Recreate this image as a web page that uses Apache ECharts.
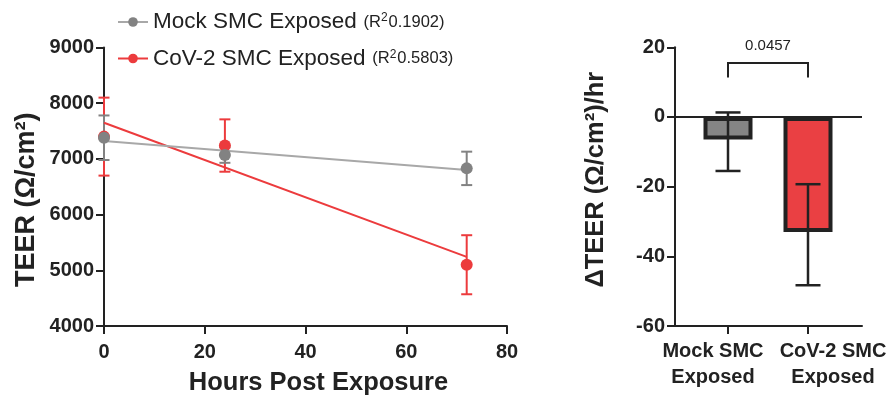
<!DOCTYPE html>
<html>
<head>
<meta charset="utf-8">
<script src="https://cdn.jsdelivr.net/npm/echarts@6/dist/echarts.min.js"></script>
<style>html,body{margin:0;padding:0;background:#fff}#c{width:891px;height:403px}</style>
</head>
<body>
<div id="c"></div>
<script>
// ---- data ----
const hours = [0, 24, 72];
const mockTEER = [7380, 7070, 6830];
const mockSD = [400, 140, 300];
const covTEER = [7400, 7240, 5100];
const covSD = [700, 470, 530];
const fitHours = [0, 72];
const mockFit = [7320, 6800];
const covFit = [7650, 5240];
const mockName = 'Mock SMC Exposed';
const covName = 'CoV-2 SMC Exposed';
const mockR2 = '0.1902';
const covR2 = '0.5803';
const rateCats = ['Mock SMC\nExposed', 'CoV-2 SMC\nExposed'];
const rateMean = [-6.5, -33.0];
const rateErrLow = [-15.5, -48.3];
const rateErrHigh = [1.3, -19.3];
const sigPair = [0, 1];
const sigTop = 15.5;
const sigLeg = 11.3;
const sigText = '0.0457';
const sigTextY = 20.3;

const FONT = '"Liberation Sans", Arial, Helvetica, sans-serif';
const INK = '#222';
const RED = '#ec3b3d';
const GRAY = '#828282';
const GRAYLINE = '#a8a8a8';
const BARRED = '#ea4043';
const BARGRAY = '#858585';

const chart = echarts.init(document.getElementById('c'), null, {renderer: 'canvas'});

function pts(xs, ys) { return xs.map((x, i) => [x, ys[i]]); }
function errs(xs, ys, sd) { return xs.map((x, i) => [x, ys[i] - sd[i], ys[i] + sd[i]]); }

function errRender(color, cap, lw) {
  return function (params, api) {
    const x = api.value(0), lo = api.value(1), hi = api.value(2);
    const a = api.coord([x, lo]), b = api.coord([x, hi]);
    const style = {stroke: color, lineWidth: lw || 2, fill: null};
    return {type: 'group', children: [
      {type: 'line', shape: {x1: a[0], y1: a[1], x2: b[0], y2: b[1]}, style},
      {type: 'line', shape: {x1: a[0] - cap, y1: a[1], x2: a[0] + cap, y2: a[1]}, style},
      {type: 'line', shape: {x1: b[0] - cap, y1: b[1], x2: b[0] + cap, y2: b[1]}, style}
    ]};
  };
}

const r2 = {};
r2[mockName] = mockR2;
r2[covName] = covR2;

const axisLineStyle = {show: true, lineStyle: {color: INK, width: 2}};
const tickStyle = {show: true, length: 8, lineStyle: {color: INK, width: 2}};
const lblStyle = {color: INK, fontSize: 20, fontWeight: 'bold', fontFamily: FONT};
const plain = function (v) { return String(v); };

const catRich = {
  c0: {fontSize: 20, fontWeight: 'bold', color: INK, fontFamily: FONT, lineHeight: 26, padding: [0, 30, 0, 0]},
  c1: {fontSize: 20, fontWeight: 'bold', color: INK, fontFamily: FONT, lineHeight: 26, padding: [0, 0, 0, 50]}
};
const catFormatter = function (v) {
  const i = Math.round(v);
  return rateCats[i].split('\n').map(s => '{c' + i + '|' + s + '}').join('\n');
};
const rateMin = -0.6625, rateMax = 1.675;

const option = {
  animation: false,
  backgroundColor: '#fff',
  textStyle: {fontFamily: FONT},
  legend: {
    data: [mockName, covName],
    orient: 'vertical',
    left: 117,
    top: 10,
    padding: 0,
    itemGap: 13,
    itemWidth: 30,
    itemHeight: 12,
    lineStyle: {opacity: 1, width: 2},
    selectedMode: false,
    formatter: function (name) {
      return '{n|' + name + '}  {r|(R}{s|2}{r|' + r2[name] + ')}';
    },
    textStyle: {
      color: INK,
      rich: {
        n: {fontSize: 22.5, color: INK, fontFamily: FONT, lineHeight: 24},
        r: {fontSize: 16.5, color: INK, fontFamily: FONT, lineHeight: 24},
        s: {fontSize: 12, color: INK, fontFamily: FONT, lineHeight: 12, verticalAlign: 'top', padding: [2, 1, 0, 0]}
      }
    }
  },
  grid: [
    {left: 104, right: 384, top: 47.5, bottom: 77},
    {left: 675, right: 29, top: 47.3, bottom: 77}
  ],
  xAxis: [
    {
      gridIndex: 0, type: 'value', min: 0, max: 80, interval: 20,
      axisLine: axisLineStyle, axisTick: tickStyle, splitLine: {show: false},
      axisLabel: Object.assign({margin: 16, formatter: plain}, lblStyle),
      name: 'Hours Post Exposure', nameLocation: 'middle', nameGap: 44,
      nameTextStyle: {color: INK, fontSize: 25.5, fontWeight: 'bold', fontFamily: FONT, padding: [0, 0, 0, 26]}
    },
    {
      gridIndex: 1, type: 'value', min: rateMin, max: rateMax, position: 'bottom',
      axisLine: Object.assign({onZero: false}, axisLineStyle),
      axisTick: Object.assign({customValues: [0, 1]}, tickStyle),
      splitLine: {show: false},
      axisLabel: Object.assign({margin: 12, customValues: [0], hideOverlap: false,
        showMinLabel: true, showMaxLabel: true, rich: catRich, formatter: catFormatter}, lblStyle)
    },
    {
      gridIndex: 1, type: 'value', min: rateMin, max: rateMax, position: 'bottom', offset: 0,
      axisLine: {show: false, onZero: false},
      axisTick: {show: false},
      splitLine: {show: false},
      axisLabel: Object.assign({margin: 12, customValues: [1], hideOverlap: false,
        showMinLabel: true, showMaxLabel: true, rich: catRich, formatter: catFormatter}, lblStyle)
    }
  ],
  yAxis: [
    {
      gridIndex: 0, type: 'value', min: 4000, max: 9000, interval: 1000,
      axisLine: Object.assign({onZero: false}, axisLineStyle), axisTick: tickStyle, splitLine: {show: false},
      axisLabel: Object.assign({margin: 10, formatter: plain}, lblStyle),
      name: 'TEER (Ω/cm²)', nameLocation: 'middle', nameGap: 64,
      nameTextStyle: {color: INK, fontSize: 27, fontWeight: 'bold', fontFamily: FONT, padding: [0, 26, 0, 0]}
    },
    {
      gridIndex: 1, type: 'value', min: -60, max: 20, interval: 20,
      axisLine: Object.assign({onZero: false}, axisLineStyle), axisTick: tickStyle, splitLine: {show: false},
      axisLabel: Object.assign({margin: 10, formatter: plain}, lblStyle),
      name: 'ΔTEER (Ω/cm²)/hr', nameLocation: 'middle', nameGap: 66,
      nameTextStyle: {color: INK, fontSize: 25.5, fontWeight: 'bold', fontFamily: FONT, padding: [0, 0, 0, 14]}
    }
  ],
  series: [
    {
      type: 'line', name: 'covFit', xAxisIndex: 0, yAxisIndex: 0,
      data: pts(fitHours, covFit), symbol: 'none', silent: true,
      lineStyle: {color: RED, width: 2}, itemStyle: {color: RED}
    },
    {
      type: 'custom', name: 'covErr', xAxisIndex: 0, yAxisIndex: 0,
      data: errs(hours, covTEER, covSD), renderItem: errRender(RED, 5.5), clip: false, silent: true
    },
    {
      type: 'line', name: covName, xAxisIndex: 0, yAxisIndex: 0,
      data: pts(hours, covTEER), symbol: 'circle', symbolSize: 12,
      itemStyle: {color: RED}, lineStyle: {color: RED, width: 2, opacity: 0}
    },
    {
      type: 'line', name: 'mockFit', xAxisIndex: 0, yAxisIndex: 0,
      data: pts(fitHours, mockFit), symbol: 'none', silent: true,
      lineStyle: {color: GRAYLINE, width: 2}, itemStyle: {color: GRAYLINE}
    },
    {
      type: 'custom', name: 'mockErr', xAxisIndex: 0, yAxisIndex: 0,
      data: errs(hours, mockTEER, mockSD), renderItem: errRender(GRAY, 5.5), clip: false, silent: true
    },
    {
      type: 'line', name: mockName, xAxisIndex: 0, yAxisIndex: 0,
      data: pts(hours, mockTEER), symbol: 'circle', symbolSize: 12,
      itemStyle: {color: GRAY}, lineStyle: {color: GRAYLINE, width: 2, opacity: 0}
    },
    {
      type: 'bar', name: 'rate', xAxisIndex: 1, yAxisIndex: 1,
      data: rateMean.map((v, i) => ({value: [i, v], itemStyle: {color: i === 0 ? BARGRAY : BARRED}})),
      barWidth: 49, z: 2,
      itemStyle: {borderColor: INK, borderWidth: 4},
      markLine: {
        silent: true, symbol: ['none', 'none'], label: {show: false},
        lineStyle: {color: INK, width: 2, type: 'solid'},
        data: [{yAxis: 0}]
      }
    },
    {
      type: 'custom', name: 'rateErr', xAxisIndex: 1, yAxisIndex: 1, z: 6,
      data: [0, 1].map(i => [i, rateErrLow[i], rateErrHigh[i]]),
      renderItem: errRender(INK, 12.5, 2.5), clip: false, silent: true
    },
    {
      type: 'custom', name: 'sig', xAxisIndex: 1, yAxisIndex: 1, clip: false, silent: true,
      data: [[sigPair[0], sigPair[1], sigTop, sigLeg, sigTextY]],
      renderItem: function (params, api) {
        const a = api.coord([api.value(0), api.value(2)]);
        const b = api.coord([api.value(1), api.value(2)]);
        const la = api.coord([api.value(0), api.value(3)]);
        const t = api.coord([(api.value(0) + api.value(1)) / 2, api.value(4)]);
        return {type: 'group', children: [
          {type: 'polyline', shape: {points: [[la[0], la[1]], [a[0], a[1]], [b[0], b[1]], [b[0], la[1]]]},
            style: {stroke: INK, lineWidth: 2, fill: null}},
          {type: 'text', x: t[0], y: t[1],
            style: {text: sigText, fill: INK, fontSize: 15, fontFamily: FONT, align: 'center', verticalAlign: 'middle'}}
        ]};
      }
    }
  ]
};
chart.setOption(option);
</script>
</body>
</html>
